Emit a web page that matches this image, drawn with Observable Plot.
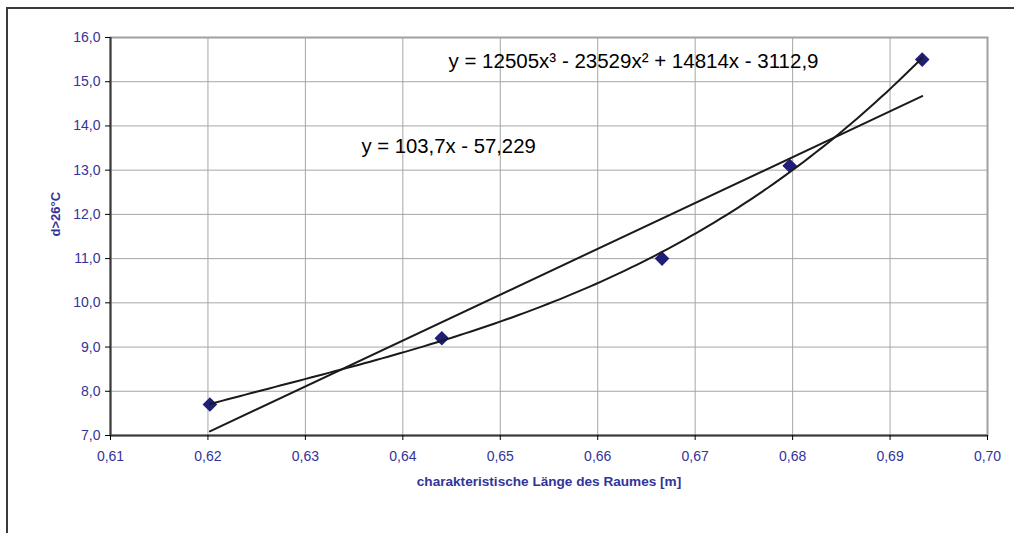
<!DOCTYPE html>
<html>
<head>
<meta charset="utf-8">
<script src="https://cdn.jsdelivr.net/npm/d3@7"></script>
<script src="https://cdn.jsdelivr.net/npm/@observablehq/plot@0.6"></script>
<style>
  body { margin: 0; background: #fff; font-family: "Liberation Sans", Arial, sans-serif; }
  #wrap { position: relative; width: 1014px; height: 533px; overflow: hidden; }
  #border { position: absolute; left: 6px; top: 7px; width: 1100px; height: 600px;
            border-left: 2px solid #3a3a3a; border-top: 2px solid #3a3a3a; pointer-events: none; }
  #wrap svg { position: absolute; left: 0; top: 0; }
</style>
</head>
<body>
<div id="wrap"><div id="border"></div></div>
<script>
// Measured overheating days against the characteristic room length
const lengths = [0.6202, 0.6440, 0.6666, 0.6797, 0.6933];
const days = [7.7, 9.2, 11.0, 13.1, 15.5];

const xTicks = [0.61, 0.62, 0.63, 0.64, 0.65, 0.66, 0.67, 0.68, 0.69, 0.70];
const yTicks = [7, 8, 9, 10, 11, 12, 13, 14, 15, 16];

const cubicLabel = "y = 12505x³ - 23529x² + 14814x - 3112,9";
const linearLabel = "y = 103,7x - 57,229";
const xTitle = "charakteristische Länge des Raumes [m]";
const yTitle = "d>26°C";

const points = lengths.map((x, i) => ({x, y: days[i]}));

// Least-squares cubic trend (centred abscissa for numerical stability)
function cubicFit(xs, ys) {
  const m = d3.mean(xs);
  const rows = xs.map(x => { const u = (x - m) * 100; return [1, u, u * u, u * u * u]; });
  const A = [0, 1, 2, 3].map(i => [0, 1, 2, 3].map(j => d3.sum(rows, r => r[i] * r[j])));
  const b = [0, 1, 2, 3].map(i => d3.sum(rows, (r, k) => r[i] * ys[k]));
  // Gaussian elimination
  for (let c = 0; c < 4; c++) {
    let p = c;
    for (let r = c + 1; r < 4; r++) if (Math.abs(A[r][c]) > Math.abs(A[p][c])) p = r;
    [A[c], A[p]] = [A[p], A[c]]; [b[c], b[p]] = [b[p], b[c]];
    for (let r = c + 1; r < 4; r++) {
      const f = A[r][c] / A[c][c];
      for (let k = c; k < 4; k++) A[r][k] -= f * A[c][k];
      b[r] -= f * b[c];
    }
  }
  const coef = [0, 0, 0, 0];
  for (let r = 3; r >= 0; r--) {
    let s = b[r];
    for (let k = r + 1; k < 4; k++) s -= A[r][k] * coef[k];
    coef[r] = s / A[r][r];
  }
  return x => { const u = (x - m) * 100; return coef[0] + coef[1] * u + coef[2] * u * u + coef[3] * u * u * u; };
}

const trend = cubicFit(lengths, days);
const [x0, x1] = d3.extent(lengths);
const curve = d3.range(0, 121).map(i => {
  const x = x0 + (x1 - x0) * i / 120;
  return {x, y: trend(x)};
});

const navy = "#333399";

const chart = Plot.plot({
  width: 1014,
  height: 533,
  marginLeft: 110,
  marginRight: 27,
  marginTop: 37,
  marginBottom: 98,
  style: {fontFamily: "'Liberation Sans', Arial, sans-serif", background: "transparent"},
  x: {domain: [0.61, 0.70]},
  y: {domain: [7, 16]},
  marks: [
    Plot.gridX(xTicks, {stroke: "#a6a6a6", strokeOpacity: 1, strokeWidth: 1}),
    Plot.gridY(yTicks, {stroke: "#a6a6a6", strokeOpacity: 1, strokeWidth: 1}),
    Plot.frame({stroke: "#a0a0a0", strokeWidth: 2}),
    Plot.ruleX([0.61], {stroke: "#3a3a3a", strokeWidth: 2}),
    Plot.ruleY([7], {stroke: "#3a3a3a", strokeWidth: 2}),
    Plot.axisX(xTicks, {
      tickSize: 5, tickPadding: 11, fontSize: 14, fill: navy, stroke: "#000",
      tickFormat: d => d.toFixed(2).replace(".", ","), label: null
    }),
    Plot.axisY(yTicks, {
      tickSize: 5, tickPadding: 5, fontSize: 14, fill: navy, stroke: "#000",
      tickFormat: d => d.toFixed(1).replace(".", ","), label: null
    }),
    Plot.dot(points, {x: "x", y: "y", symbol: "diamond2", r: 6.6, fill: "#1f1f7a", stroke: "none"}),
    Plot.linearRegressionY(points, {x: "x", y: "y", ci: 0, stroke: "#1a1a1a", strokeWidth: 2}),
    Plot.line(curve, {x: "x", y: "y", stroke: "#1a1a1a", strokeWidth: 2, curve: "linear"}),
    Plot.text([cubicLabel], {
      frameAnchor: "top-left", dx: 338, dy: 30, textAnchor: "start", lineAnchor: "bottom",
      fontSize: 20.5, fill: "#000"
    }),
    Plot.text([linearLabel], {
      frameAnchor: "top-left", dx: 251, dy: 115, textAnchor: "start", lineAnchor: "bottom",
      fontSize: 20.3, fill: "#000"
    }),
    Plot.text([xTitle], {
      frameAnchor: "bottom", dy: 46, lineAnchor: "middle",
      fontSize: 13.6, fontWeight: "bold", fill: navy
    }),
    Plot.text([yTitle], {
      frameAnchor: "left", dx: -55, rotate: -90, lineAnchor: "middle",
      fontSize: 13, fontWeight: "bold", fill: navy
    })
  ]
});

document.getElementById("wrap").appendChild(chart);
</script>
</body>
</html>
